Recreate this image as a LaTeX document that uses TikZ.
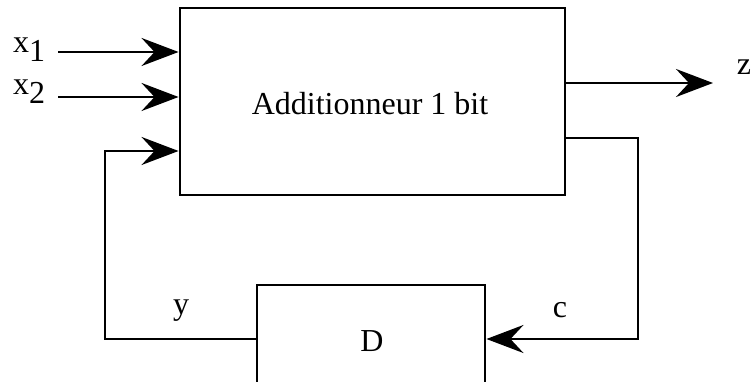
\documentclass[tikz,border=0pt]{standalone}
\usepackage{fontspec}
\setmainfont{Liberation Serif}
\usetikzlibrary{arrows.meta}
\begin{document}
\begin{tikzpicture}[x=1pt,y=-1pt,
  wire/.style={line width=2.9pt},
  arr/.style={wire,-{Stealth[length=37pt,width=28pt,inset=13pt]}},
  blk/.style={draw,line width=2.9pt,rectangle,inner sep=0pt},
  lbl/.style={font=\fontsize{32}{36}\selectfont,inner sep=0pt,anchor=base}]
\clip (0,0) rectangle (753,382);
\node[blk,minimum width=385pt,minimum height=187pt] (add) at (372.5,101.5) {};
\node[lbl] (addt) at (370,115) {Additionneur 1 bit};
\node[blk,minimum width=228pt,minimum height=140pt] (D) at (371,355) {};
\node[lbl] (Dt) at (372,352) {D};
% inputs
\coordinate (x1s) at (58,52);
\coordinate (x2s) at (58,97);
\node[lbl,anchor=base west] (x1) at (13,53) {x\raisebox{-9pt}{1}};
\node[lbl,anchor=base west] (x2) at (13,95) {x\raisebox{-9pt}{2}};
\draw[arr] (x1s) -- (x1s -| add.west);
\draw[arr] (x2s) -- (x2s -| add.west);
% output z
\coordinate (zs) at (565,83);
\coordinate (ze) at (713,83);
\draw[arr] (zs) -- (ze);
\node[lbl] (z) at (744,75) {z};
% carry path
\coordinate (cs) at (565,138);
\coordinate (cr) at (638,138);
\coordinate (cb) at (638,339);
\draw[arr] (cs) -- (cr) -- (cb) -- (cb -| D.east);
\node[lbl] (c) at (560,318) {c};
% feedback y
\coordinate (yl) at (105,339);
\coordinate (yt) at (105,151);
\draw[arr] (yl -| D.west) -- (yl) -- (yt) -- (yt -| add.west);
\node[lbl] (y) at (181,315) {y};
\end{tikzpicture}
\end{document}
